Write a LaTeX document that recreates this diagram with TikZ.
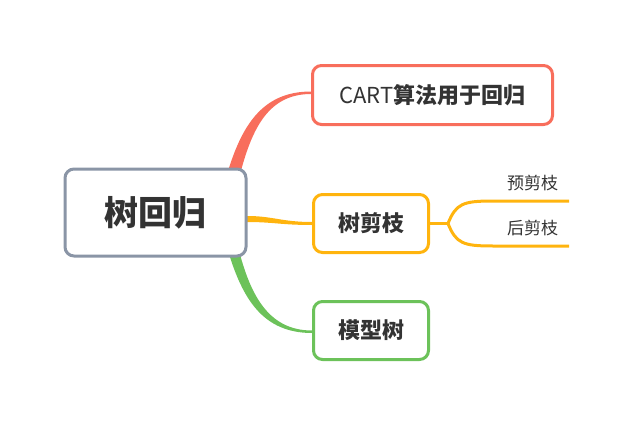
\documentclass[tikz,border=0pt]{standalone}
\usepackage{fontspec}
\setmainfont{Noto Sans CJK SC}
\usetikzlibrary{positioning,backgrounds}
\definecolor{rootgray}{HTML}{8A95A6}
\definecolor{redb}{HTML}{F86E5C}
\definecolor{orangeb}{HTML}{FFB40E}
\definecolor{greenb}{HTML}{6CC25A}
\definecolor{txt}{HTML}{333333}

\begin{document}
\begin{tikzpicture}[x=1pt,y=-1pt]
	\tikzset{topic/.style = {shape=rectangle,draw,line width=3pt,rounded corners=9pt,
			fill=white,text=txt,inner sep=0pt,
			font=\bfseries\fontsize{22}{26}\selectfont}}
	\tikzset{central/.style = {topic,draw=rootgray,minimum width=181pt,
			minimum height=87pt,font=\bfseries\fontsize{34}{40}\selectfont}}
	\tikzset{leaf/.style = {text=txt,inner sep=0pt,font=\fontsize{17}{20}\selectfont}}
	\tikzset{fork/.style = {draw=orangeb,line width=3pt}}
	\useasboundingbox (0,0) rectangle (632,423);
	
	% topics
	\node[central] (root) at (155.5,212.5) {树回归};
	\node[topic,draw=redb,minimum width=240pt,minimum height=59pt] (cart) at (432.5,95)
		{\mdseries CART\bfseries 算法用于回归};
	\node[topic,draw=orangeb,minimum width=115pt,minimum height=58pt] (prune) at (371,223.5) {树剪枝};
	\node[topic,draw=greenb,minimum width=115pt,minimum height=58pt] (model) at (371,330.5) {模型树};
	
	% leaves
	\node[leaf] (pre) at (532.5,183) {预剪枝};
	\node[leaf] (post) at (532.5,228) {后剪枝};
	
	% branches
	\begin{scope}[on background layer]
	\fill[redb] ([xshift=-20pt,yshift=-5pt]root.north east) .. controls +(14,-45) and +(-50,0) ..
		([yshift=3.5pt]cart.west) -- ([yshift=1pt]cart.west) .. controls +(-42,0) and +(12,-45) ..
		([xshift=-7pt,yshift=-5pt]root.north east) -- cycle;
	\fill[orangeb] ([xshift=-5pt,yshift=-3.5pt]root.east) -- ([yshift=-3.5pt]root.east)
		.. controls +(25,0) and +(-30,0) .. ([yshift=1.5pt]prune.west)
		-- ([yshift=-1.5pt]prune.west) .. controls +(-30,0) and +(25,0) ..
		([yshift=-9.5pt]root.east) -- ([xshift=-5pt,yshift=-9.5pt]root.east) -- cycle;
	\fill[greenb] ([xshift=-19pt,yshift=5pt]root.south east) .. controls +(14,45) and +(-50,0) ..
		([yshift=-2.5pt]model.west) -- (model.west) .. controls +(-42,0) and +(12,45) ..
		([xshift=-8pt,yshift=5pt]root.south east) -- cycle;
	\end{scope}
	
	%fork
	\coordinate (split) at ([xshift=18pt]prune.east);
	\coordinate (preend) at (569,201);
	\coordinate (postend) at (569,246);
	\draw[fork] (prune.east) -- (split);
	\draw[fork] (split) .. controls +(8,-20) and +(-30,0) .. ([xshift=-76pt]preend) -- (preend);
	\draw[fork] (split) .. controls +(8,20) and +(-30,0) .. ([xshift=-76pt]postend) -- (postend);
	
\end{tikzpicture}
\end{document}
